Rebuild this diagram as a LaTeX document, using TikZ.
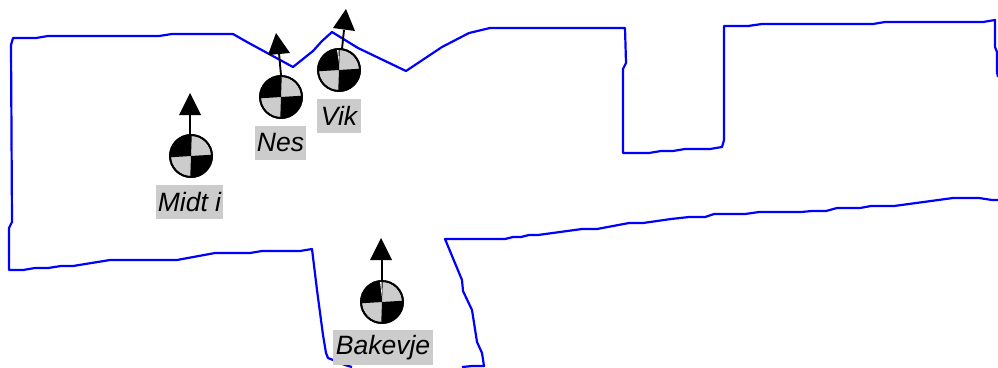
\documentclass[tikz,border=0pt]{standalone}
\usepackage{fontspec}
\setmainfont{Liberation Sans}
\tikzset{
  outline/.style={draw={rgb,255:red,0;green,0;blue,255},line width=2.2pt,line join=round},
  disc/.style={circle,draw=black,line width=1.8pt,minimum size=42pt,inner sep=0pt,fill={rgb,255:red,204;green,204;blue,204}},
  shaft/.style={draw=black,line width=1.9pt},
  head/.style={fill=black},
  tag/.style={fill={rgb,255:red,204;green,204;blue,204},inner sep=0pt,minimum height=34pt,font=\fontsize{26.5}{26.5}\selectfont\itshape,text=black}
}
\newcommand{\markerdisc}[3]{% name, x, y
  \node[disc] (#1) at (#2,#3) {};
  \begin{scope}[shift={(#2,#3)}]
    \clip (0,0) circle[radius=21];
    \fill (0,0) -- (-88:30) -- (-135:45) -- (-183.5:30) -- cycle;
    \fill (0,0) -- (-268:30) -- (45:45) -- (-3.5:30) -- cycle;
  \end{scope}
  \node[circle,draw=black,line width=1.8pt,minimum size=42pt,inner sep=0pt] at (#2,#3) {};
}
\begin{document}
\begin{tikzpicture}[x=1pt,y=-1pt]
\useasboundingbox (0,0) rectangle (998,367);
\draw[outline] (462,367) -- (472,366) -- (484,366) -- (482,353) -- (477,342) -- (472,310) -- (463,291) -- (462,280) -- (445,239)
 -- (505,239) -- (513,237) -- (521,237) -- (529,235) -- (538,235) -- (582,229) -- (597,229) -- (629,223) -- (643,223) -- (671,219) -- (689,217) -- (705,217) -- (714,214) -- (745,214) -- (759,212) -- (801,212) -- (812,211) -- (826,211) -- (837,208) -- (860,208) -- (871,206) -- (894,206) -- (953,198) -- (979,198) -- (992,200) -- (998,200);
\draw[outline] (998,77) -- (997,72) -- (997,52) -- (995,47) -- (995,20) -- (983,22) -- (885,22) -- (873,24) -- (762,24) -- (748,26) -- (724,26) -- (724,140) -- (722,147) -- (710,149) -- (685,149) -- (673,151) -- (661,151) -- (649,153) -- (623,153) -- (623,69) -- (626,63) -- (625,28) -- (490,28) -- (469,33) -- (442,47) -- (406,71) -- (358,48) -- (332,32) -- (322,41) -- (313,51) -- (293,67) -- (247,42) -- (233,34) -- (172,34) -- (159,36) -- (48,36) -- (36,38) -- (13,38) -- (11,45) -- (12,222) -- (9,228) -- (9,270) -- (23,270) -- (35,268) -- (48,268) -- (61,266) -- (73,266) -- (110,260) -- (177,260) -- (215,253) -- (250,253) -- (262,251) -- (300,251) -- (312,249) -- (317,290) -- (323,335) -- (326,353) -- (328,358) -- (333,360) -- (345,365) -- (352,367);

\markerdisc{midt}{191}{156}
\markerdisc{nes}{281}{97}
\markerdisc{vik}{339}{70}
\markerdisc{bak}{382}{302}
\fill[white] (337,50) -- (338.5,50) -- (339,63) -- cycle;
\fill[white] (380,282) -- (381.5,282) -- (382,298) -- cycle;

\coordinate (midtb) at (190,115);
\coordinate (midtt) at (190,135);
\coordinate (nesb) at (279,53);
\coordinate (vikb) at (344,30);
\coordinate (vikt) at (342,49);
\coordinate (bakb) at (382,260);
\draw[shaft] (midtt) -- (midtb);
\draw[shaft] (nes.north) -- (nesb);
\draw[shaft] (vikt) -- (vikb);
\draw[shaft] (bak.north) -- (bakb);
\fill[head] (190,93) -- (201,115) -- (179,115) -- cycle;
\fill[head] (276,33) -- (290,53) -- (268,55) -- cycle;
\fill[head] (346,9) -- (355,31) -- (333,28) -- cycle;
\fill[head] (381,238) -- (392,260) -- (370,260) -- cycle;

\node[tag,minimum width=67pt] (midtl) at (189.5,202) {\raisebox{-1pt}{Midt i}};
\node[tag,minimum width=51pt] (nesl) at (280.5,143) {\raisebox{-1pt}{Nes}};
\node[tag,minimum width=44pt] (vikl) at (339,116) {\raisebox{-1pt}{Vik}};
\node[tag,minimum width=100pt,minimum height=35pt] (bakl) at (383,347.5) {\raisebox{-1pt}{Bakevje}};
\end{tikzpicture}
\end{document}
